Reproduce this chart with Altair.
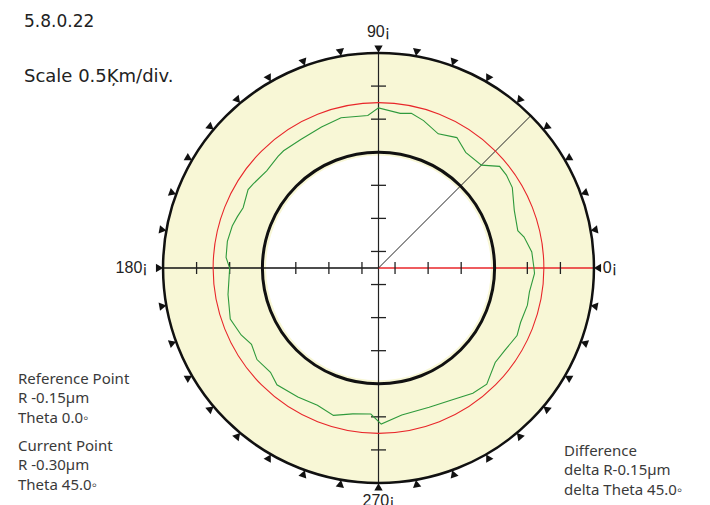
import math
import altair as alt
import pandas as pd

# ---------------- data ----------------
# measured roundness profile: angle (deg) -> radial deviation (µm)
profile_angle_deg = [0, 6, 12, 15, 23, 31, 36, 40, 45, 53, 59, 66, 73, 78, 82, 90,
                     94, 104, 112, 121, 129, 132, 139, 146, 149, 156, 160, 164, 170, 176, 180,
                     190, 199, 206, 211, 217, 224, 229, 238, 246, 253, 260, 267, 271,
                     279, 290, 299, 307, 313, 321, 327, 334, 339, 346, 351, 358, 360]
profile_r_um = [-0.15, -0.17, -0.25, -0.32, -0.27, -0.14, -0.11, -0.11, -0.30, -0.31, -0.20, -0.28, -0.17, -0.11, -0.14, -0.08,
                -0.19, -0.16, -0.20, -0.23, -0.22, -0.23, -0.26, -0.22, -0.20, -0.26, -0.23, -0.20, -0.18, -0.19, -0.25,
                -0.19, -0.13, -0.19, -0.26, -0.20, -0.23, -0.16, -0.20, -0.23, -0.17, -0.26, -0.29, -0.14,
                -0.25, -0.26, -0.22, -0.13, -0.10, -0.23, -0.22, -0.17, -0.20, -0.18, -0.19, -0.14, -0.15]

center_um = -2.5          # value at the centre of the plot
ring_kinds = ["outer", "reference", "inner"]
ring_um = [0.75, 0.0, -0.75]
white_um = -0.80          # edge of the white inner disk
tick_um = [-2.25, -1.75, -1.25, -0.25, 0.25]
axis_deg = [0, 90, 180, 270]
marker_deg = list(range(0, 360, 10))
spoke_kinds = ["vertical", "vertical", "left", "right", "current"]
spoke_deg = [90, 270, 180, 0, 45]
angle_labels = ["0¡", "90¡", "180¡", "270¡"]
angle_label_deg = [0, 90, 180, 270]

OUTER = ring_um[0]

# ---------------- layout ----------------
K = 66.15                 # px per µm
W, H = 694, 497
CX, CY = 370.5, 260.0     # centre of the polar plot in the canvas

x_scale = alt.Scale(domain=[-CX / K, (W - CX) / K], nice=False, zero=False)
y_scale = alt.Scale(domain=[-(H - CY) / K, CY / K], nice=False, zero=False)
r_scale = alt.Scale(type="linear", domain=[center_um, OUTER],
                    range=[0, (OUTER - center_um) * K], zero=False, nice=False)


def px(r, a):
    return f"(({r}) - ({center_um})) * cos(({a}) * PI / 180)"


def py(r, a):
    return f"(({r}) - ({center_um})) * sin(({a}) * PI / 180)"


def X(f):
    return alt.X(f, type="quantitative", scale=x_scale, axis=None)


def Y(f):
    return alt.Y(f, type="quantitative", scale=y_scale, axis=None)


CX0 = alt.X(datum=0, type="quantitative", scale=x_scale, axis=None)
CY0 = alt.Y(datum=0, type="quantitative", scale=y_scale, axis=None)

# ---------------- layers ----------------
disk_df = pd.DataFrame({"outer": [OUTER], "inner": [white_um]})
yellow = alt.Chart(disk_df).mark_arc(color="#f8f7d6", strokeWidth=0).encode(
    x=CX0, y=CY0,
    theta=alt.value(0), theta2=alt.value(2 * math.pi),
    radius=alt.Radius("outer:Q", scale=r_scale),
    radius2=alt.Radius2("inner:Q"),
)


def ring(kind, color, width):
    i = ring_kinds.index(kind)
    df = pd.DataFrame({"kind": [kind], "R": [ring_um[i]], "R0": [center_um]})
    return alt.Chart(df).mark_arc(
        fill="transparent", stroke=color, strokeWidth=width
    ).encode(
        x=CX0, y=CY0,
        theta=alt.value(0), theta2=alt.value(2 * math.pi),
        radius=alt.Radius("R:Q", scale=r_scale),
        radius2=alt.Radius2("R0:Q"),
    )


spokes_df = pd.DataFrame({"kind": spoke_kinds, "angle": spoke_deg})


def spoke(kind, color, width):
    return alt.Chart(spokes_df).transform_filter(alt.datum.kind == kind).transform_calculate(
        x1=px(center_um, "datum.angle"), y1=py(center_um, "datum.angle"),
        x2=px(OUTER, "datum.angle"), y2=py(OUTER, "datum.angle"),
    ).mark_rule(color=color, strokeWidth=width).encode(
        x=X("x1"), y=Y("y1"), x2="x2:Q", y2="y2:Q"
    )


ticks_df = pd.DataFrame([(a, v) for a in axis_deg for v in tick_um], columns=["angle", "R"])


def ticks(horizontal_axis, shape, size):
    cond = "datum.angle % 180 == 0" if horizontal_axis else "datum.angle % 180 != 0"
    return alt.Chart(ticks_df).transform_filter(cond).transform_calculate(
        tx=px("datum.R", "datum.angle"), ty=py("datum.R", "datum.angle")
    ).mark_point(shape=shape, size=size, filled=False, stroke="#222",
                 strokeWidth=1.3, opacity=1).encode(x=X("tx"), y=Y("ty"))


profile_df = pd.DataFrame({"angle": profile_angle_deg, "R": profile_r_um})
profile = alt.Chart(profile_df).transform_calculate(
    gx=px("datum.R", "datum.angle"), gy=py("datum.R", "datum.angle")
).mark_line(color="#2f9a3c", strokeWidth=1.1).encode(
    x=X("gx"), y=Y("gy"), order=alt.Order("angle:Q")
)

markers_df = pd.DataFrame({"angle": marker_deg})
markers = alt.Chart(markers_df).transform_calculate(
    mx=px(OUTER + 0.06, "datum.angle"), my=py(OUTER + 0.06, "datum.angle"),
    rot="(270 - datum.angle + 360) % 360",
).mark_point(shape="triangle-up", filled=True, color="#111", size=70, opacity=1).encode(
    x=X("mx"), y=Y("my"), angle=alt.Angle("rot:Q", scale=None)
)

labels_df = pd.DataFrame({"text": angle_labels, "angle": angle_label_deg})
label_style = {
    "0¡": dict(align="left", baseline="middle", gap=0.14),
    "90¡": dict(align="center", baseline="alphabetic", gap=0.24),
    "180¡": dict(align="right", baseline="middle", gap=0.24),
    "270¡": dict(align="center", baseline="top", gap=0.15),
}


def angle_label(t):
    st = label_style[t]
    r = OUTER + st["gap"]
    return alt.Chart(labels_df).transform_filter(alt.datum.text == t).transform_calculate(
        lx=px(r, "datum.angle"), ly=py(r, "datum.angle")
    ).mark_text(align=st["align"], baseline=st["baseline"], font="Liberation Sans",
                fontSize=16, color="#222").encode(x=X("lx"), y=Y("ly"), text="text:N")


def note(text, x, y, size=15, font="Noto Sans", color="#3a3a3a"):
    return alt.Chart(pd.DataFrame({"t": [text]})).mark_text(
        align="left", baseline="alphabetic", font=font, fontSize=size, color=color
    ).encode(x=alt.value(x), y=alt.value(y), text="t:N")


layers = [
    yellow,
    spoke("vertical", "#222", 1.2),
    spoke("left", "#111", 1.5),
    spoke("right", "#e8262a", 1.6),
    spoke("current", "#222", 1.0),
    ticks(True, "M0,-1L0,1", 144),
    ticks(False, "M-1,0L1,0", 225),
    ring("reference", "#e8262a", 1.1),
    ring("inner", "#111", 3.0),
    ring("outer", "#111", 2.5),
    profile,
    markers,
] + [angle_label(t) for t in angle_labels] + [
    note("5.8.0.22", 16, 19, 17, "DejaVu Sans", "#222"),
    note("Scale 0.5Ķm/div.", 16, 74, 18, "DejaVu Sans", "#222"),
    note("Reference Point", 10, 376),
    note("R -0.15µm", 10, 395),
    note("Theta 0.0◦", 10, 415),
    note("Current Point", 10, 443),
    note("R -0.30µm", 10, 462),
    note("Theta 45.0◦", 10, 482),
    note("Difference", 556, 448),
    note("delta R-0.15µm", 556, 467),
    note("delta Theta 45.0◦", 556, 487),
]

chart = alt.layer(*layers).properties(
    width=W, height=H, padding=0,
    autosize=alt.AutoSizeParams(type="none"),
).configure_view(strokeWidth=0)

chart.save("out.html", embed_options={"renderer": "svg", "actions": False})
